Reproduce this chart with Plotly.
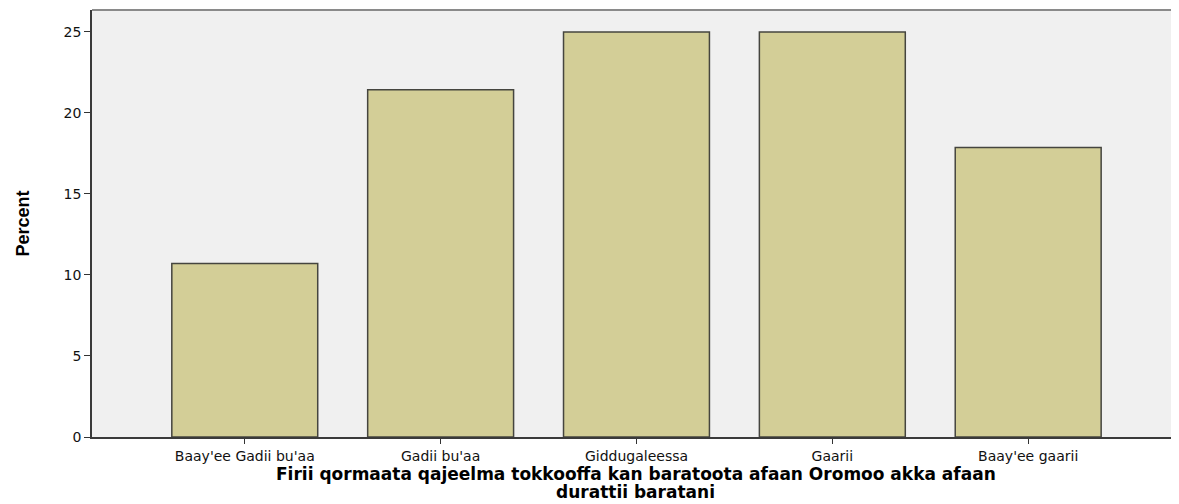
import plotly.graph_objects as go

categories = ["Baay'ee Gadii bu'aa", "Gadii bu'aa", "Giddugaleessa", "Gaarii", "Baay'ee gaarii"]
percent = [10.71, 21.43, 25.0, 25.0, 17.86]
y_ticks = [0, 5, 10, 15, 20, 25]

x_title_lines = ["Firii qormaata qajeelma tokkooffa kan baratoota afaan Oromoo akka afaan",
                 "durattii baratani"]
y_title = "Percent"

fig = go.Figure(go.Bar(
    x=list(range(len(categories))),
    y=percent,
    width=0.745,
    marker=dict(color="#D3CE97", line=dict(color="#45453f", width=1.5)),
    hoverinfo="skip",
))

fig.update_layout(
    width=1171, height=496,
    margin=dict(l=84, r=0, t=2, b=67),
    paper_bgcolor="white",
    plot_bgcolor="#F0F0F0",
    showlegend=False,
    font=dict(family="DejaVu Sans", color="#222222"),
)
fig.update_xaxes(
    range=[-0.78, 4.77],
    tickmode="array",
    tickvals=list(range(len(categories))),
    ticktext=categories,
    ticks="outside", ticklen=5, tickcolor="#333333", tickwidth=1,
    tickfont=dict(family="DejaVu Sans", size=14, color="#111111"),
    showline=True, linecolor="#3a3a3a", linewidth=1.5,
    showgrid=False, zeroline=False,
)
fig.update_yaxes(
    range=[0, 26.35],
    tickmode="array",
    tickvals=y_ticks,
    ticks="outside", ticklen=6, tickcolor="#333333", tickwidth=1,
    tickfont=dict(family="DejaVu Sans", size=14, color="#111111"),
    showline=True, linecolor="#3a3a3a", linewidth=1.5,
    showgrid=False, zeroline=False,
)

# top frame line
fig.add_shape(type="line", xref="paper", yref="paper", x0=0, x1=1, y0=1, y1=1,
              line=dict(color="#8a8a8a", width=2))

# x-axis title (two tight lines)
for line, shift in zip(x_title_lines, [-37, -55]):
    fig.add_annotation(text=line, xref="paper", yref="paper", x=0.5, y=0,
                       xanchor="center", yanchor="middle", yshift=shift, showarrow=False,
                       font=dict(family="DejaVu Sans", size=17, color="#000000", weight="bold"))

# y-axis title
fig.add_annotation(text=y_title, xref="paper", yref="paper", x=0, y=0.5,
                   xanchor="center", yanchor="middle", xshift=-70, textangle=-90, showarrow=False,
                   font=dict(family="Liberation Sans Narrow, Liberation Sans", size=18, color="#000000", weight="bold"))

fig.write_html("out.html")
